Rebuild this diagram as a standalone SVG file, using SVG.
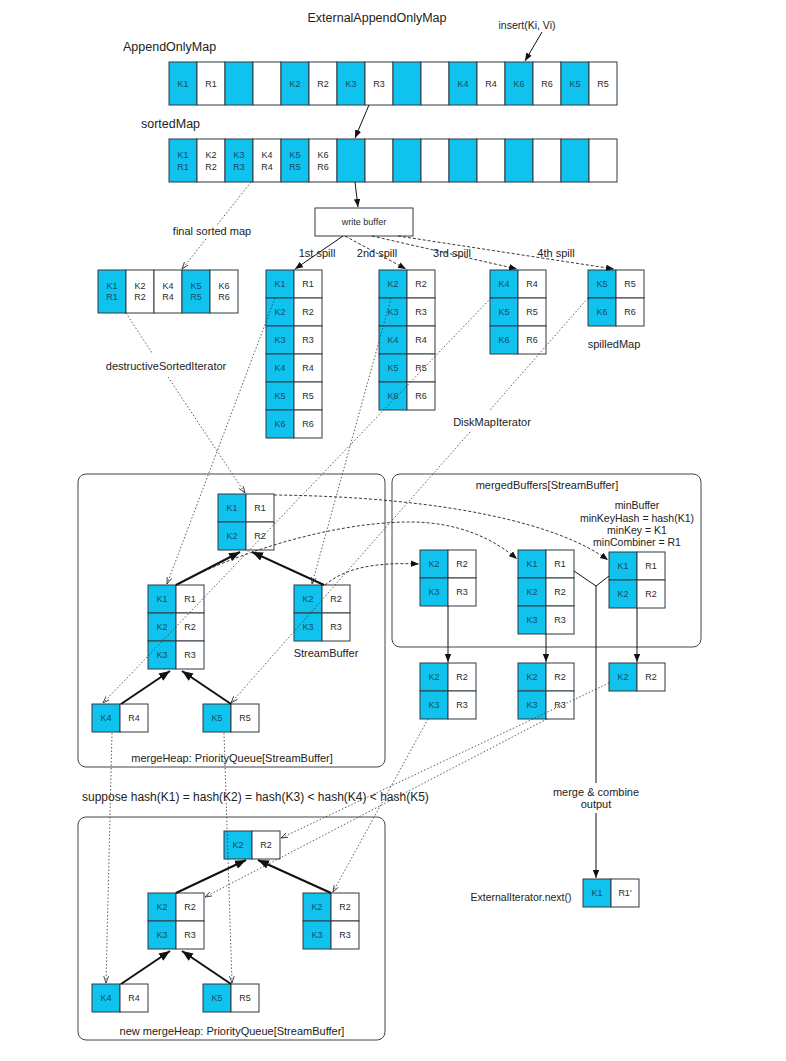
<svg xmlns="http://www.w3.org/2000/svg" width="786" height="1061" viewBox="0 0 786 1061">
  <style>
    text { font-family: "Liberation Sans", Arial, Helvetica, sans-serif; fill: #222; }
    .k { fill: #0fc3ee; stroke: #2f3a40; stroke-width: 1; }
    .w { fill: #ffffff; stroke: #2f3a40; stroke-width: 1; }
    .ct { font-size: 9px; text-anchor: middle; fill: #2a2a2a; }
    .kt { font-size: 9px; text-anchor: middle; fill: #174a66; }
    .lbl { font-size: 11px; text-anchor: middle; }
    .big { font-size: 12.5px; }
    .frame { fill: none; stroke: #444; stroke-width: 1; }
    .solid { fill: none; stroke: #111; stroke-width: 1; }
    .thick { fill: none; stroke: #111; stroke-width: 2; }
    .dash { fill: none; stroke: #222; stroke-width: 0.9; stroke-dasharray: 3 2; }
    .dot { fill: none; stroke: #333; stroke-width: 0.8; stroke-dasharray: 1.5 2; }
  </style>
  <defs>
    <marker id="ah" viewBox="0 0 10 8" refX="10" refY="4" markerWidth="8" markerHeight="6.5" orient="auto" markerUnits="userSpaceOnUse">
      <path d="M0,0 L10,4 L0,8 z" fill="#111"/>
    </marker>
    <marker id="ahBig" viewBox="0 0 10 8" refX="10" refY="4" markerWidth="11" markerHeight="9" orient="auto" markerUnits="userSpaceOnUse">
      <path d="M0,0 L10,4 L0,8 z" fill="#111"/>
    </marker>
    <marker id="ahDot" viewBox="0 0 10 8" refX="10" refY="4" markerWidth="7" markerHeight="6" orient="auto" markerUnits="userSpaceOnUse">
      <path d="M0,0.5 L10,4 L0,7.5" fill="none" stroke="#333" stroke-width="1.2"/>
    </marker>
  </defs>

  <rect width="786" height="1061" fill="#ffffff"/>

  <!-- headings and free labels -->
  <g id="labels">
    <text class="big" x="377" y="22" text-anchor="middle">ExternalAppendOnlyMap</text>
    <text class="big" x="123" y="51">AppendOnlyMap</text>
    <text class="big" x="141" y="128">sortedMap</text>
    <text style="font-size:10.5px" x="527" y="29" text-anchor="middle">insert(Ki, Vi)</text>
    <text class="lbl" x="212" y="235">final sorted map</text>
    <text class="lbl" x="317" y="257">1st spill</text>
    <text class="lbl" x="377" y="257">2nd spill</text>
    <text class="lbl" x="452" y="257">3rd spill</text>
    <text class="lbl" x="556" y="257">4th spill</text>
    <text class="lbl" x="614" y="348">spilledMap</text>
    <text class="lbl" x="166" y="370">destructiveSortedIterator</text>
    <text class="lbl" x="492" y="426">DiskMapIterator</text>
    <text style="font-size:12px" x="82" y="801">suppose hash(K1) = hash(K2) = hash(K3) &lt; hash(K4) &lt; hash(K5)</text>
    <text class="lbl" x="596" y="796">merge &amp; combine</text>
    <text class="lbl" x="596" y="808">output</text>
    <text style="font-size:10.5px" x="521" y="901" text-anchor="middle">ExternalIterator.next()</text>
  </g>

  <!-- AppendOnlyMap storage row -->
  <g id="appendOnlyMap">
    <rect class="k" x="169" y="62" width="28" height="43"/>
    <rect class="w" x="197" y="62" width="28" height="43"/>
    <rect class="k" x="225" y="62" width="28" height="43"/>
    <rect class="w" x="253" y="62" width="28" height="43"/>
    <rect class="k" x="281" y="62" width="28" height="43"/>
    <rect class="w" x="309" y="62" width="28" height="43"/>
    <rect class="k" x="337" y="62" width="28" height="43"/>
    <rect class="w" x="365" y="62" width="28" height="43"/>
    <rect class="k" x="393" y="62" width="28" height="43"/>
    <rect class="w" x="421" y="62" width="28" height="43"/>
    <rect class="k" x="449" y="62" width="28" height="43"/>
    <rect class="w" x="477" y="62" width="28" height="43"/>
    <rect class="k" x="505" y="62" width="28" height="43"/>
    <rect class="w" x="533" y="62" width="28" height="43"/>
    <rect class="k" x="561" y="62" width="28" height="43"/>
    <rect class="w" x="589" y="62" width="28" height="43"/>
    <text class="kt" x="183" y="87">K1</text>
    <text class="ct" x="211" y="87">R1</text>
    <text class="kt" x="295" y="87">K2</text>
    <text class="ct" x="323" y="87">R2</text>
    <text class="kt" x="351" y="87">K3</text>
    <text class="ct" x="379" y="87">R3</text>
    <text class="kt" x="463" y="87">K4</text>
    <text class="ct" x="491" y="87">R4</text>
    <text class="kt" x="519" y="87">K6</text>
    <text class="ct" x="547" y="87">R6</text>
    <text class="kt" x="575" y="87">K5</text>
    <text class="ct" x="603" y="87">R5</text>
  </g>

  <!-- sortedMap row -->
  <g id="sortedMap">
    <rect class="k" x="169" y="139" width="28" height="43"/>
    <rect class="w" x="197" y="139" width="28" height="43"/>
    <rect class="k" x="225" y="139" width="28" height="43"/>
    <rect class="w" x="253" y="139" width="28" height="43"/>
    <rect class="k" x="281" y="139" width="28" height="43"/>
    <rect class="w" x="309" y="139" width="28" height="43"/>
    <rect class="k" x="337" y="139" width="28" height="43"/>
    <rect class="w" x="365" y="139" width="28" height="43"/>
    <rect class="k" x="393" y="139" width="28" height="43"/>
    <rect class="w" x="421" y="139" width="28" height="43"/>
    <rect class="k" x="449" y="139" width="28" height="43"/>
    <rect class="w" x="477" y="139" width="28" height="43"/>
    <rect class="k" x="505" y="139" width="28" height="43"/>
    <rect class="w" x="533" y="139" width="28" height="43"/>
    <rect class="k" x="561" y="139" width="28" height="43"/>
    <rect class="w" x="589" y="139" width="28" height="43"/>
    <text class="kt" x="183" y="158">K1</text><text class="kt" x="183" y="170">R1</text>
    <text class="ct" x="211" y="158">K2</text><text class="ct" x="211" y="170">R2</text>
    <text class="kt" x="239" y="158">K3</text><text class="kt" x="239" y="170">R3</text>
    <text class="ct" x="267" y="158">K4</text><text class="ct" x="267" y="170">R4</text>
    <text class="kt" x="295" y="158">K5</text><text class="kt" x="295" y="170">R5</text>
    <text class="ct" x="323" y="158">K6</text><text class="ct" x="323" y="170">R6</text>
  </g>

  <!-- write buffer -->
  <g id="writeBuffer">
    <rect class="w" x="315" y="208" width="98" height="28"/>
    <text class="ct" x="364" y="225">write buffer</text>
  </g>

  <!-- final sorted map -->
  <g id="finalSortedMap">
    <rect class="k" x="98" y="270" width="28" height="43"/>
    <rect class="w" x="126" y="270" width="28" height="43"/>
    <rect class="w" x="154" y="270" width="28" height="43"/>
    <rect class="k" x="182" y="270" width="28" height="43"/>
    <rect class="w" x="210" y="270" width="28" height="43"/>
    <text class="kt" x="112" y="289">K1</text><text class="kt" x="112" y="300">R1</text>
    <text class="ct" x="140" y="289">K2</text><text class="ct" x="140" y="300">R2</text>
    <text class="ct" x="168" y="289">K4</text><text class="ct" x="168" y="300">R4</text>
    <text class="kt" x="196" y="289">K5</text><text class="kt" x="196" y="300">R5</text>
    <text class="ct" x="224" y="289">K6</text><text class="ct" x="224" y="300">R6</text>
  </g>

  <!-- spill files -->
  <g id="spill1">
    <rect class="k" x="266" y="270" width="28" height="28"/><rect class="w" x="294" y="270" width="28" height="28"/>
    <rect class="k" x="266" y="298" width="28" height="28"/><rect class="w" x="294" y="298" width="28" height="28"/>
    <rect class="k" x="266" y="326" width="28" height="28"/><rect class="w" x="294" y="326" width="28" height="28"/>
    <rect class="k" x="266" y="354" width="28" height="28"/><rect class="w" x="294" y="354" width="28" height="28"/>
    <rect class="k" x="266" y="382" width="28" height="28"/><rect class="w" x="294" y="382" width="28" height="28"/>
    <rect class="k" x="266" y="410" width="28" height="28"/><rect class="w" x="294" y="410" width="28" height="28"/>
    <text class="kt" x="280" y="287">K1</text><text class="ct" x="308" y="287">R1</text>
    <text class="kt" x="280" y="315">K2</text><text class="ct" x="308" y="315">R2</text>
    <text class="kt" x="280" y="343">K3</text><text class="ct" x="308" y="343">R3</text>
    <text class="kt" x="280" y="371">K4</text><text class="ct" x="308" y="371">R4</text>
    <text class="kt" x="280" y="399">K5</text><text class="ct" x="308" y="399">R5</text>
    <text class="kt" x="280" y="427">K6</text><text class="ct" x="308" y="427">R6</text>
  </g>
  <g id="spill2">
    <rect class="k" x="379" y="270" width="28" height="28"/><rect class="w" x="407" y="270" width="28" height="28"/>
    <rect class="k" x="379" y="298" width="28" height="28"/><rect class="w" x="407" y="298" width="28" height="28"/>
    <rect class="k" x="379" y="326" width="28" height="28"/><rect class="w" x="407" y="326" width="28" height="28"/>
    <rect class="k" x="379" y="354" width="28" height="28"/><rect class="w" x="407" y="354" width="28" height="28"/>
    <rect class="k" x="379" y="382" width="28" height="28"/><rect class="w" x="407" y="382" width="28" height="28"/>
    <text class="kt" x="393" y="287">K2</text><text class="ct" x="421" y="287">R2</text>
    <text class="kt" x="393" y="315">K3</text><text class="ct" x="421" y="315">R3</text>
    <text class="kt" x="393" y="343">K4</text><text class="ct" x="421" y="343">R4</text>
    <text class="kt" x="393" y="371">K5</text><text class="ct" x="421" y="371">R5</text>
    <text class="kt" x="393" y="399">K6</text><text class="ct" x="421" y="399">R6</text>
  </g>
  <g id="spill3">
    <rect class="k" x="490" y="270" width="28" height="28"/><rect class="w" x="518" y="270" width="28" height="28"/>
    <rect class="k" x="490" y="298" width="28" height="28"/><rect class="w" x="518" y="298" width="28" height="28"/>
    <rect class="k" x="490" y="326" width="28" height="28"/><rect class="w" x="518" y="326" width="28" height="28"/>
    <text class="kt" x="504" y="287">K4</text><text class="ct" x="532" y="287">R4</text>
    <text class="kt" x="504" y="315">K5</text><text class="ct" x="532" y="315">R5</text>
    <text class="kt" x="504" y="343">K6</text><text class="ct" x="532" y="343">R6</text>
  </g>
  <g id="spill4">
    <rect class="k" x="588" y="270" width="28" height="28"/><rect class="w" x="616" y="270" width="28" height="28"/>
    <rect class="k" x="588" y="298" width="28" height="28"/><rect class="w" x="616" y="298" width="28" height="28"/>
    <text class="kt" x="602" y="287">K5</text><text class="ct" x="630" y="287">R5</text>
    <text class="kt" x="602" y="315">K6</text><text class="ct" x="630" y="315">R6</text>
  </g>

  <!-- mergeHeap container -->
  <g id="mergeHeap">
    <rect class="frame" x="78" y="474" width="307" height="293" rx="8"/>
    <text class="lbl" x="232" y="762">mergeHeap: PriorityQueue[StreamBuffer]</text>
  </g>
  <g id="heapTop">
    <rect class="k" x="218" y="494" width="28" height="28"/><rect class="w" x="246" y="494" width="28" height="28"/>
    <rect class="k" x="218" y="522" width="28" height="28"/><rect class="w" x="246" y="522" width="28" height="28"/>
    <text class="kt" x="232" y="511">K1</text><text class="ct" x="260" y="511">R1</text>
    <text class="kt" x="232" y="539">K2</text><text class="ct" x="260" y="539">R2</text>
  </g>
  <g id="heapLeft">
    <rect class="k" x="148" y="585" width="28" height="28"/><rect class="w" x="176" y="585" width="28" height="28"/>
    <rect class="k" x="148" y="613" width="28" height="28"/><rect class="w" x="176" y="613" width="28" height="28"/>
    <rect class="k" x="148" y="641" width="28" height="28"/><rect class="w" x="176" y="641" width="28" height="28"/>
    <text class="kt" x="162" y="602">K1</text><text class="ct" x="190" y="602">R1</text>
    <text class="kt" x="162" y="630">K2</text><text class="ct" x="190" y="630">R2</text>
    <text class="kt" x="162" y="658">K3</text><text class="ct" x="190" y="658">R3</text>
  </g>
  <g id="heapRight">
    <rect class="k" x="294" y="585" width="28" height="28"/><rect class="w" x="322" y="585" width="28" height="28"/>
    <rect class="k" x="294" y="613" width="28" height="28"/><rect class="w" x="322" y="613" width="28" height="28"/>
    <text class="kt" x="308" y="602">K2</text><text class="ct" x="336" y="602">R2</text>
    <text class="kt" x="308" y="630">K3</text><text class="ct" x="336" y="630">R3</text>
    <text class="lbl" x="326" y="657">StreamBuffer</text>
  </g>
  <g id="heapK4">
    <rect class="k" x="92" y="704" width="28" height="28"/><rect class="w" x="120" y="704" width="28" height="28"/>
    <text class="kt" x="106" y="721">K4</text><text class="ct" x="134" y="721">R4</text>
  </g>
  <g id="heapK5">
    <rect class="k" x="203" y="704" width="28" height="28"/><rect class="w" x="231" y="704" width="28" height="28"/>
    <text class="kt" x="217" y="721">K5</text><text class="ct" x="245" y="721">R5</text>
  </g>

  <!-- mergedBuffers container -->
  <g id="mergedBuffers">
    <rect class="frame" x="392" y="474" width="309" height="173" rx="8"/>
    <text class="lbl" x="547" y="489">mergedBuffers[StreamBuffer]</text>
    <text style="font-size:10.5px" x="637" y="509" text-anchor="middle">minBuffer</text>
    <text style="font-size:10.5px" x="637" y="522" text-anchor="middle">minKeyHash = hash(K1)</text>
    <text style="font-size:10.5px" x="637" y="534" text-anchor="middle">minKey = K1</text>
    <text style="font-size:10.5px" x="637" y="546" text-anchor="middle">minCombiner = R1</text>
  </g>
  <g id="bufA">
    <rect class="k" x="420" y="550" width="28" height="28"/><rect class="w" x="448" y="550" width="28" height="28"/>
    <rect class="k" x="420" y="578" width="28" height="28"/><rect class="w" x="448" y="578" width="28" height="28"/>
    <text class="kt" x="434" y="567">K2</text><text class="ct" x="462" y="567">R2</text>
    <text class="kt" x="434" y="595">K3</text><text class="ct" x="462" y="595">R3</text>
  </g>
  <g id="bufB">
    <rect class="k" x="518" y="550" width="28" height="28"/><rect class="w" x="546" y="550" width="28" height="28"/>
    <rect class="k" x="518" y="578" width="28" height="28"/><rect class="w" x="546" y="578" width="28" height="28"/>
    <rect class="k" x="518" y="606" width="28" height="28"/><rect class="w" x="546" y="606" width="28" height="28"/>
    <text class="kt" x="532" y="567">K1</text><text class="ct" x="560" y="567">R1</text>
    <text class="kt" x="532" y="595">K2</text><text class="ct" x="560" y="595">R2</text>
    <text class="kt" x="532" y="623">K3</text><text class="ct" x="560" y="623">R3</text>
  </g>
  <g id="bufC">
    <rect class="k" x="609" y="552" width="28" height="28"/><rect class="w" x="637" y="552" width="28" height="28"/>
    <rect class="k" x="609" y="580" width="28" height="28"/><rect class="w" x="637" y="580" width="28" height="28"/>
    <text class="kt" x="623" y="569">K1</text><text class="ct" x="651" y="569">R1</text>
    <text class="kt" x="623" y="597">K2</text><text class="ct" x="651" y="597">R2</text>
  </g>
  <g id="bufA2">
    <rect class="k" x="420" y="663" width="28" height="28"/><rect class="w" x="448" y="663" width="28" height="28"/>
    <rect class="k" x="420" y="691" width="28" height="28"/><rect class="w" x="448" y="691" width="28" height="28"/>
    <text class="kt" x="434" y="680">K2</text><text class="ct" x="462" y="680">R2</text>
    <text class="kt" x="434" y="708">K3</text><text class="ct" x="462" y="708">R3</text>
  </g>
  <g id="bufB2">
    <rect class="k" x="518" y="663" width="28" height="28"/><rect class="w" x="546" y="663" width="28" height="28"/>
    <rect class="k" x="518" y="691" width="28" height="28"/><rect class="w" x="546" y="691" width="28" height="28"/>
    <text class="kt" x="532" y="680">K2</text><text class="ct" x="560" y="680">R2</text>
    <text class="kt" x="532" y="708">K3</text><text class="ct" x="560" y="708">R3</text>
  </g>
  <g id="bufC2">
    <rect class="k" x="609" y="663" width="28" height="28"/><rect class="w" x="637" y="663" width="28" height="28"/>
    <text class="kt" x="623" y="680">K2</text><text class="ct" x="651" y="680">R2</text>
  </g>

  <!-- emitted record -->
  <g id="externalNext">
    <rect class="k" x="583" y="879" width="28" height="28"/><rect class="w" x="611" y="879" width="28" height="28"/>
    <text class="kt" x="597" y="896">K1</text><text class="ct" x="625" y="896">R1'</text>
  </g>

  <!-- rebuilt heap -->
  <g id="newMergeHeap">
    <rect class="frame" x="78" y="817" width="307" height="223" rx="8"/>
    <text class="lbl" x="232" y="1035">new mergeHeap: PriorityQueue[StreamBuffer]</text>
  </g>
  <g id="newTop">
    <rect class="k" x="224" y="831" width="28" height="28"/><rect class="w" x="252" y="831" width="28" height="28"/>
    <text class="kt" x="238" y="848">K2</text><text class="ct" x="266" y="848">R2</text>
  </g>
  <g id="newLeft">
    <rect class="k" x="148" y="893" width="28" height="28"/><rect class="w" x="176" y="893" width="28" height="28"/>
    <rect class="k" x="148" y="921" width="28" height="28"/><rect class="w" x="176" y="921" width="28" height="28"/>
    <text class="kt" x="162" y="910">K2</text><text class="ct" x="190" y="910">R2</text>
    <text class="kt" x="162" y="938">K3</text><text class="ct" x="190" y="938">R3</text>
  </g>
  <g id="newRight">
    <rect class="k" x="303" y="893" width="28" height="28"/><rect class="w" x="331" y="893" width="28" height="28"/>
    <rect class="k" x="303" y="921" width="28" height="28"/><rect class="w" x="331" y="921" width="28" height="28"/>
    <text class="kt" x="317" y="910">K2</text><text class="ct" x="345" y="910">R2</text>
    <text class="kt" x="317" y="938">K3</text><text class="ct" x="345" y="938">R3</text>
  </g>
  <g id="newK4">
    <rect class="k" x="92" y="984" width="28" height="28"/><rect class="w" x="120" y="984" width="28" height="28"/>
    <text class="kt" x="106" y="1001">K4</text><text class="ct" x="134" y="1001">R4</text>
  </g>
  <g id="newK5">
    <rect class="k" x="203" y="984" width="28" height="28"/><rect class="w" x="231" y="984" width="28" height="28"/>
    <text class="kt" x="217" y="1001">K5</text><text class="ct" x="245" y="1001">R5</text>
  </g>

  <!-- connectors -->
  <g id="connectors">
    <!-- solid flow -->
    <path class="solid" d="M542,32 L525,61" marker-end="url(#ah)"/>
    <path class="solid" d="M369,105 L355,138" marker-end="url(#ah)"/>
    <path class="solid" d="M355,182 L358,207" marker-end="url(#ah)"/>
    <path class="solid" d="M343,236 L295,269" marker-end="url(#ah)"/>
    <path class="solid" d="M448,606 L448,662" marker-end="url(#ah)"/>
    <path class="solid" d="M546,634 L546,662" marker-end="url(#ah)"/>
    <path class="solid" d="M637,608 L637,662" marker-end="url(#ah)"/>
    <path class="solid" d="M574,571 L596,586 L609,576"/>
    <path class="solid" d="M596,586 L596,783"/>
    <path class="solid" d="M596,813 L596,878" marker-end="url(#ah)"/>

    <!-- spills -->
    <path class="dash" d="M345,236 L406,269" marker-end="url(#ah)"/>
    <path class="dash" d="M372,236 L517,269" marker-end="url(#ah)"/>
    <path class="dash" d="M398,236 L614,269" marker-end="url(#ah)"/>

    <!-- heap links -->
    <path class="thick" d="M176,585 L240,552" marker-end="url(#ahBig)"/>
    <path class="thick" d="M324,585 L252,552" marker-end="url(#ahBig)"/>
    <path class="thick" d="M121,704 L170,671" marker-end="url(#ahBig)"/>
    <path class="thick" d="M231,704 L182,671" marker-end="url(#ahBig)"/>
    <path class="thick" d="M176,893 L246,860" marker-end="url(#ahBig)"/>
    <path class="thick" d="M331,893 L258,860" marker-end="url(#ahBig)"/>
    <path class="thick" d="M121,984 L170,951" marker-end="url(#ahBig)"/>
    <path class="thick" d="M231,984 L182,951" marker-end="url(#ahBig)"/>

    <!-- buffers moved into mergedBuffers -->
    <path class="dash" d="M274,495 C450,497 560,525 608,560" marker-end="url(#ah)"/>
    <path class="dash" d="M177,585 C230,555 330,522 410,522 C460,522 495,540 517,559" marker-end="url(#ah)"/>
    <path class="dash" d="M325,585 C345,568 375,562 419,564" marker-end="url(#ah)"/>

    <!-- iterators -->
    <path class="dot" d="M251,182 L217,225"/>
    <path class="dot" d="M206,239 L182,269" marker-end="url(#ahDot)"/>
    <path class="dot" d="M126,313 L152,353"/>
    <path class="dot" d="M168,377 L245,493" marker-end="url(#ahDot)"/>
    <path class="dot" d="M275,298 L167,584" marker-end="url(#ahDot)"/>
    <path class="dot" d="M391,298 L312,584" marker-end="url(#ahDot)"/>
    <path class="dot" d="M491,298 L103,703" marker-end="url(#ahDot)"/>
    <path class="dot" d="M588,298 L490,410"/>
    <path class="dot" d="M470,432 L231,703" marker-end="url(#ahDot)"/>

    <!-- buffers pushed back into the new heap -->
    <path class="dot" d="M609,683 L281,838" marker-end="url(#ahDot)"/>
    <path class="dot" d="M547,719 L205,897" marker-end="url(#ahDot)"/>
    <path class="dot" d="M428,719 L333,892" marker-end="url(#ahDot)"/>
    <path class="dot" d="M112,733 L106,983" marker-end="url(#ahDot)"/>
    <path class="dot" d="M224,733 L232,983" marker-end="url(#ahDot)"/>
  </g>
</svg>
